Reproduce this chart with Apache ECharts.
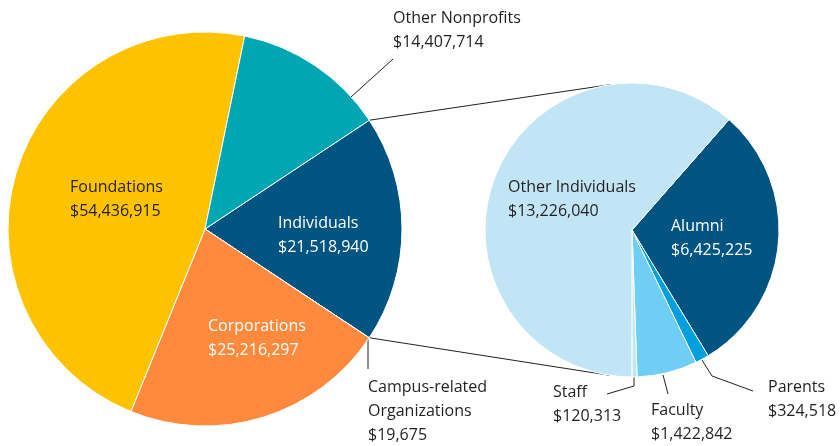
<!DOCTYPE html>
<html>
<head>
<meta charset="utf-8">
<script src="https://cdn.jsdelivr.net/npm/echarts@6/dist/echarts.min.js"></script>
<style>
  html, body { margin: 0; padding: 0; background: #fff; }
  #chart { width: 840px; height: 446px; }
</style>
</head>
<body>
<div id="chart"></div>
<script>
// source categories (order = clockwise from the top edge of Individuals)
const sourceNames = ['Individuals', 'Campus-related Organizations', 'Corporations', 'Foundations', 'Other Nonprofits']
const sourceValues = [21518940, 19675, 25216297, 54436915, 14407714]
const sourceColors = ['#005482', '#8a8a8a', '#FF8A3D', '#FDC300', '#00A6B1']

// breakdown of Individuals
const indivNames = ['Alumni', 'Parents', 'Faculty', 'Staff', 'Other Individuals']
const indivValues = [6425225, 324518, 1422842, 120313, 13226040]
const indivColors = ['#005482', '#009FDE', '#6ECEF3', '#C2E5F6', '#C2E5F6']

const textColor = '#231F20'
const font = 'Open Sans'

// pie geometry (px)
const left = { cx: 205, cy: 229, r: 197 }
const right = { cx: 632, cy: 230, r: 147 }

// label placement, top-left corner + leader points
const leftLabels = {
  'Individuals': { x: 278, y: 211, color: '#fff' },
  'Campus-related Organizations': { x: 368, y: 375, color: textColor, line: [[368, 338], [368, 369], [368, 369]] },
  'Corporations': { x: 208, y: 314, color: '#fff' },
  'Foundations': { x: 70, y: 175, color: textColor },
  'Other Nonprofits': { x: 393, y: 6, color: textColor, line: [[351, 97], [393, 59], [393, 59]] },
}
const rightLabels = {
  'Alumni': { x: 671, y: 214, color: '#fff' },
  'Parents': { x: 768, y: 375, color: textColor, line: [[702, 360], [712, 376], [753, 391]] },
  'Faculty': { x: 651, y: 398, color: textColor, line: [[663, 375], [668, 394], [668, 394]] },
  'Staff': { x: 553, y: 380, color: textColor, line: [[634, 377], [634, 386], [607, 394]] },
  'Other Individuals': { x: 508, y: 175, color: textColor },
}

function fmt(p) {
  const name = p.name.replace('Campus-related ', 'Campus-related\n')
  return name + '\n$' + p.value.toLocaleString('en-US')
}

function buildData(names, values, colors, labels) {
  return names.map((n, i) => {
    const l = labels[n]
    return {
      name: n,
      value: values[i],
      itemStyle: { color: colors[i] },
      label: { color: l.color, position: l.line ? 'outside' : 'inside' },
      labelLine: { show: !!l.line },
    }
  })
}

function layoutFor(names, labels) {
  return function (params) {
    const l = labels[names[params.dataIndex]]
    const out = { x: l.x, y: l.y, align: 'left', verticalAlign: 'top' }
    if (l.line) out.labelLinePoints = l.line
    return out
  }
}

const chart = echarts.init(document.getElementById('chart'))

// connector lines: from the split points of the Individuals slice to tangents of the right pie
const total = sourceValues.reduce((a, b) => a + b, 0)
const half = (sourceValues[0] / total) * Math.PI
function tangent(px, py, upper) {
  const dx = px - right.cx, dy = right.cy - py
  const d = Math.sqrt(dx * dx + dy * dy)
  const base = Math.atan2(dy, dx)
  const off = Math.acos(right.r / d)
  const a = upper ? base - off : base + off
  return [right.cx + right.r * Math.cos(a), right.cy - right.r * Math.sin(a)]
}
const pTop = [left.cx + left.r * Math.cos(half), left.cy - left.r * Math.sin(half)]
const pBot = [left.cx + left.r * Math.cos(half), left.cy + left.r * Math.sin(half)]
const tTop = tangent(pTop[0], pTop[1], true)
const tBot = tangent(pBot[0], pBot[1], false)

const labelBase = {
  fontFamily: font,
  fontSize: 16,
  lineHeight: 24,
  formatter: fmt,
}

chart.setOption({
  animation: false,
  graphic: [
    { type: 'line', z: 0, shape: { x1: pTop[0], y1: pTop[1], x2: tTop[0], y2: tTop[1] }, style: { stroke: textColor, lineWidth: 1 } },
    { type: 'line', z: 0, shape: { x1: pBot[0], y1: pBot[1], x2: tBot[0], y2: tBot[1] }, style: { stroke: textColor, lineWidth: 1 } },
  ],
  series: [
    {
      type: 'pie',
      center: [left.cx, left.cy],
      radius: left.r,
      startAngle: (sourceValues[0] / total) * 180,
      clockwise: true,
      avoidLabelOverlap: false,
      silent: true,
      itemStyle: { borderColor: '#fff', borderWidth: 1 },
      label: labelBase,
      labelLine: { lineStyle: { color: textColor, width: 1 } },
      labelLayout: layoutFor(sourceNames, leftLabels),
      data: buildData(sourceNames, sourceValues, sourceColors, leftLabels),
    },
    {
      type: 'pie',
      center: [right.cx, right.cy],
      radius: right.r,
      startAngle: 48.7,
      clockwise: true,
      avoidLabelOverlap: false,
      silent: true,
      itemStyle: { borderColor: '#fff', borderWidth: 1 },
      label: labelBase,
      labelLine: { lineStyle: { color: textColor, width: 1 } },
      labelLayout: layoutFor(indivNames, rightLabels),
      data: buildData(indivNames, indivValues, indivColors, rightLabels),
    },
  ],
})

window.addEventListener('resize', () => chart.resize())
</script>
</body>
</html>
